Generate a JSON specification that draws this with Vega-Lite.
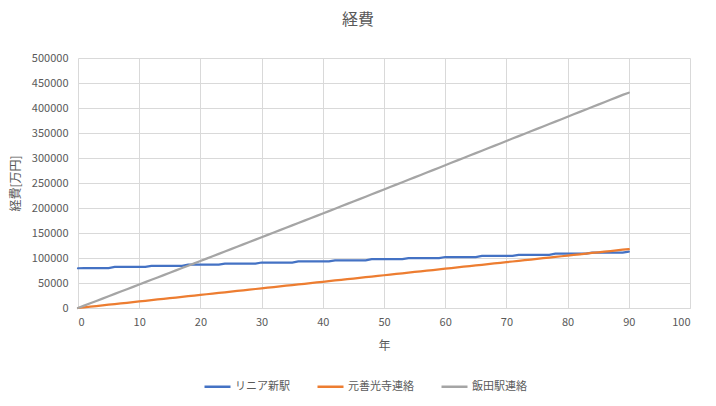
{
  "$schema": "https://vega.github.io/schema/vega-lite/v6.json",
  "width": 612,
  "height": 250,
  "autosize": {"type": "none"},
  "padding": {"left": 78, "top": 58, "right": 26, "bottom": 98},
  "background": "#ffffff",
  "config": {
    "font": "Noto Sans CJK JP",
    "view": {"stroke": null},
    "axis": {
      "labelColor": "#595959",
      "titleColor": "#595959",
      "labelFontSize": 11,
      "titleFontSize": 12,
      "titleFontWeight": "normal",
      "gridColor": "#d9d9d9",
      "gridWidth": 1,
      "ticks": false
    }
  },
  "title": {
    "text": "経費",
    "fontSize": 16,
    "fontWeight": "normal",
    "color": "#595959",
    "anchor": "middle",
    "dx": -26,
    "offset": 24
  },
  "data": {
    "values": [
      {"年": 0, "リニア新駅": 79500, "元善光寺連絡": 0, "飯田駅連絡": 0},
      {"年": 1, "リニア新駅": 80000, "元善光寺連絡": 1310, "飯田駅連絡": 4700},
      {"年": 2, "リニア新駅": 80000, "元善光寺連絡": 2620, "飯田駅連絡": 9400},
      {"年": 3, "リニア新駅": 80000, "元善光寺連絡": 3930, "飯田駅連絡": 14100},
      {"年": 4, "リニア新駅": 80000, "元善光寺連絡": 5240, "飯田駅連絡": 18800},
      {"年": 5, "リニア新駅": 80000, "元善光寺連絡": 6550, "飯田駅連絡": 23500},
      {"年": 6, "リニア新駅": 82200, "元善光寺連絡": 7860, "飯田駅連絡": 28200},
      {"年": 7, "リニア新駅": 82200, "元善光寺連絡": 9170, "飯田駅連絡": 32900},
      {"年": 8, "リニア新駅": 82200, "元善光寺連絡": 10480, "飯田駅連絡": 37600},
      {"年": 9, "リニア新駅": 82200, "元善光寺連絡": 11790, "飯田駅連絡": 42300},
      {"年": 10, "リニア新駅": 82200, "元善光寺連絡": 13100, "飯田駅連絡": 47000},
      {"年": 11, "リニア新駅": 82200, "元善光寺連絡": 14410, "飯田駅連絡": 51700},
      {"年": 12, "リニア新駅": 84400, "元善光寺連絡": 15720, "飯田駅連絡": 56400},
      {"年": 13, "リニア新駅": 84400, "元善光寺連絡": 17030, "飯田駅連絡": 61100},
      {"年": 14, "リニア新駅": 84400, "元善光寺連絡": 18340, "飯田駅連絡": 65800},
      {"年": 15, "リニア新駅": 84400, "元善光寺連絡": 19650, "飯田駅連絡": 70500},
      {"年": 16, "リニア新駅": 84400, "元善光寺連絡": 20960, "飯田駅連絡": 75200},
      {"年": 17, "リニア新駅": 84400, "元善光寺連絡": 22270, "飯田駅連絡": 79900},
      {"年": 18, "リニア新駅": 86600, "元善光寺連絡": 23580, "飯田駅連絡": 84600},
      {"年": 19, "リニア新駅": 86600, "元善光寺連絡": 24890, "飯田駅連絡": 89300},
      {"年": 20, "リニア新駅": 86600, "元善光寺連絡": 26200, "飯田駅連絡": 94000},
      {"年": 21, "リニア新駅": 86600, "元善光寺連絡": 27510, "飯田駅連絡": 98750},
      {"年": 22, "リニア新駅": 86600, "元善光寺連絡": 28820, "飯田駅連絡": 103500},
      {"年": 23, "リニア新駅": 86600, "元善光寺連絡": 30130, "飯田駅連絡": 108250},
      {"年": 24, "リニア新駅": 88800, "元善光寺連絡": 31440, "飯田駅連絡": 113000},
      {"年": 25, "リニア新駅": 88800, "元善光寺連絡": 32750, "飯田駅連絡": 117750},
      {"年": 26, "リニア新駅": 88800, "元善光寺連絡": 34060, "飯田駅連絡": 122500},
      {"年": 27, "リニア新駅": 88800, "元善光寺連絡": 35370, "飯田駅連絡": 127250},
      {"年": 28, "リニア新駅": 88800, "元善光寺連絡": 36680, "飯田駅連絡": 132000},
      {"年": 29, "リニア新駅": 88800, "元善光寺連絡": 37990, "飯田駅連絡": 136750},
      {"年": 30, "リニア新駅": 91000, "元善光寺連絡": 39300, "飯田駅連絡": 141500},
      {"年": 31, "リニア新駅": 91000, "元善光寺連絡": 40610, "飯田駅連絡": 146250},
      {"年": 32, "リニア新駅": 91000, "元善光寺連絡": 41920, "飯田駅連絡": 151000},
      {"年": 33, "リニア新駅": 91000, "元善光寺連絡": 43230, "飯田駅連絡": 155750},
      {"年": 34, "リニア新駅": 91000, "元善光寺連絡": 44540, "飯田駅連絡": 160500},
      {"年": 35, "リニア新駅": 91000, "元善光寺連絡": 45850, "飯田駅連絡": 165250},
      {"年": 36, "リニア新駅": 93200, "元善光寺連絡": 47160, "飯田駅連絡": 170000},
      {"年": 37, "リニア新駅": 93200, "元善光寺連絡": 48470, "飯田駅連絡": 174750},
      {"年": 38, "リニア新駅": 93200, "元善光寺連絡": 49780, "飯田駅連絡": 179500},
      {"年": 39, "リニア新駅": 93200, "元善光寺連絡": 51090, "飯田駅連絡": 184250},
      {"年": 40, "リニア新駅": 93200, "元善光寺連絡": 52400, "飯田駅連絡": 189000},
      {"年": 41, "リニア新駅": 93200, "元善光寺連絡": 53710, "飯田駅連絡": 193800},
      {"年": 42, "リニア新駅": 95400, "元善光寺連絡": 55020, "飯田駅連絡": 198600},
      {"年": 43, "リニア新駅": 95400, "元善光寺連絡": 56330, "飯田駅連絡": 203400},
      {"年": 44, "リニア新駅": 95400, "元善光寺連絡": 57640, "飯田駅連絡": 208200},
      {"年": 45, "リニア新駅": 95400, "元善光寺連絡": 58950, "飯田駅連絡": 213000},
      {"年": 46, "リニア新駅": 95400, "元善光寺連絡": 60260, "飯田駅連絡": 217800},
      {"年": 47, "リニア新駅": 95400, "元善光寺連絡": 61570, "飯田駅連絡": 222600},
      {"年": 48, "リニア新駅": 97600, "元善光寺連絡": 62880, "飯田駅連絡": 227400},
      {"年": 49, "リニア新駅": 97600, "元善光寺連絡": 64190, "飯田駅連絡": 232200},
      {"年": 50, "リニア新駅": 97600, "元善光寺連絡": 65500, "飯田駅連絡": 237000},
      {"年": 51, "リニア新駅": 97600, "元善光寺連絡": 66810, "飯田駅連絡": 241850},
      {"年": 52, "リニア新駅": 97600, "元善光寺連絡": 68120, "飯田駅連絡": 246700},
      {"年": 53, "リニア新駅": 97600, "元善光寺連絡": 69430, "飯田駅連絡": 251550},
      {"年": 54, "リニア新駅": 99800, "元善光寺連絡": 70740, "飯田駅連絡": 256400},
      {"年": 55, "リニア新駅": 99800, "元善光寺連絡": 72050, "飯田駅連絡": 261250},
      {"年": 56, "リニア新駅": 99800, "元善光寺連絡": 73360, "飯田駅連絡": 266100},
      {"年": 57, "リニア新駅": 99800, "元善光寺連絡": 74670, "飯田駅連絡": 270950},
      {"年": 58, "リニア新駅": 99800, "元善光寺連絡": 75980, "飯田駅連絡": 275800},
      {"年": 59, "リニア新駅": 99800, "元善光寺連絡": 77290, "飯田駅連絡": 280650},
      {"年": 60, "リニア新駅": 102000, "元善光寺連絡": 78600, "飯田駅連絡": 285500},
      {"年": 61, "リニア新駅": 102000, "元善光寺連絡": 79910, "飯田駅連絡": 290350},
      {"年": 62, "リニア新駅": 102000, "元善光寺連絡": 81220, "飯田駅連絡": 295200},
      {"年": 63, "リニア新駅": 102000, "元善光寺連絡": 82530, "飯田駅連絡": 300050},
      {"年": 64, "リニア新駅": 102000, "元善光寺連絡": 83840, "飯田駅連絡": 304900},
      {"年": 65, "リニア新駅": 102000, "元善光寺連絡": 85150, "飯田駅連絡": 309750},
      {"年": 66, "リニア新駅": 104200, "元善光寺連絡": 86460, "飯田駅連絡": 314600},
      {"年": 67, "リニア新駅": 104200, "元善光寺連絡": 87770, "飯田駅連絡": 319450},
      {"年": 68, "リニア新駅": 104200, "元善光寺連絡": 89080, "飯田駅連絡": 324300},
      {"年": 69, "リニア新駅": 104200, "元善光寺連絡": 90390, "飯田駅連絡": 329150},
      {"年": 70, "リニア新駅": 104200, "元善光寺連絡": 91700, "飯田駅連絡": 334000},
      {"年": 71, "リニア新駅": 104200, "元善光寺連絡": 93010, "飯田駅連絡": 338850},
      {"年": 72, "リニア新駅": 106400, "元善光寺連絡": 94320, "飯田駅連絡": 343700},
      {"年": 73, "リニア新駅": 106400, "元善光寺連絡": 95630, "飯田駅連絡": 348550},
      {"年": 74, "リニア新駅": 106400, "元善光寺連絡": 96940, "飯田駅連絡": 353400},
      {"年": 75, "リニア新駅": 106400, "元善光寺連絡": 98250, "飯田駅連絡": 358250},
      {"年": 76, "リニア新駅": 106400, "元善光寺連絡": 99560, "飯田駅連絡": 363100},
      {"年": 77, "リニア新駅": 106400, "元善光寺連絡": 100870, "飯田駅連絡": 367950},
      {"年": 78, "リニア新駅": 108600, "元善光寺連絡": 102180, "飯田駅連絡": 372800},
      {"年": 79, "リニア新駅": 108600, "元善光寺連絡": 103490, "飯田駅連絡": 377650},
      {"年": 80, "リニア新駅": 108600, "元善光寺連絡": 104800, "飯田駅連絡": 382500},
      {"年": 81, "リニア新駅": 108600, "元善光寺連絡": 106110, "飯田駅連絡": 387350},
      {"年": 82, "リニア新駅": 108600, "元善光寺連絡": 107420, "飯田駅連絡": 392200},
      {"年": 83, "リニア新駅": 108600, "元善光寺連絡": 108730, "飯田駅連絡": 397050},
      {"年": 84, "リニア新駅": 110800, "元善光寺連絡": 110040, "飯田駅連絡": 401900},
      {"年": 85, "リニア新駅": 110800, "元善光寺連絡": 111350, "飯田駅連絡": 406750},
      {"年": 86, "リニア新駅": 110800, "元善光寺連絡": 112660, "飯田駅連絡": 411600},
      {"年": 87, "リニア新駅": 110800, "元善光寺連絡": 113970, "飯田駅連絡": 416450},
      {"年": 88, "リニア新駅": 110800, "元善光寺連絡": 115280, "飯田駅連絡": 421300},
      {"年": 89, "リニア新駅": 110800, "元善光寺連絡": 116590, "飯田駅連絡": 426150},
      {"年": 90, "リニア新駅": 112800, "元善光寺連絡": 117900, "飯田駅連絡": 430600}
    ]
  },
  "transform": [
    {"fold": ["リニア新駅", "元善光寺連絡", "飯田駅連絡"], "as": ["系列", "経費"]}
  ],
  "mark": {"type": "line", "strokeWidth": 2.25, "strokeCap": "round"},
  "encoding": {
    "x": {
      "field": "年",
      "type": "quantitative",
      "title": "年",
      "scale": {"domain": [0, 100], "nice": false},
      "axis": {
        "values": [0, 10, 20, 30, 40, 50, 60, 70, 80, 90, 100],
        "domain": true,
        "domainColor": "#d9d9d9",
        "labelPadding": 8,
        "titlePadding": 13
      }
    },
    "y": {
      "field": "経費",
      "type": "quantitative",
      "title": "経費[万円]",
      "scale": {"domain": [0, 500000], "nice": false},
      "axis": {
        "values": [0, 50000, 100000, 150000, 200000, 250000, 300000, 350000, 400000, 450000, 500000],
        "format": "d",
        "domain": false,
        "labelPadding": 10,
        "titlePadding": 9
      }
    },
    "color": {
      "field": "系列",
      "type": "nominal",
      "sort": ["リニア新駅", "元善光寺連絡", "飯田駅連絡"],
      "scale": {
        "domain": ["リニア新駅", "元善光寺連絡", "飯田駅連絡"],
        "range": ["#4472c4", "#ed7d31", "#a5a5a5"]
      },
      "legend": {
        "title": null,
        "orient": "none",
        "direction": "horizontal",
        "legendX": 125,
        "legendY": 314,
        "symbolType": "stroke",
        "symbolSize": 676,
        "symbolStrokeWidth": 2.5,
        "labelFontSize": 11,
        "labelColor": "#595959",
        "labelOffset": 3,
        "columnPadding": 22
      }
    }
  }
}
